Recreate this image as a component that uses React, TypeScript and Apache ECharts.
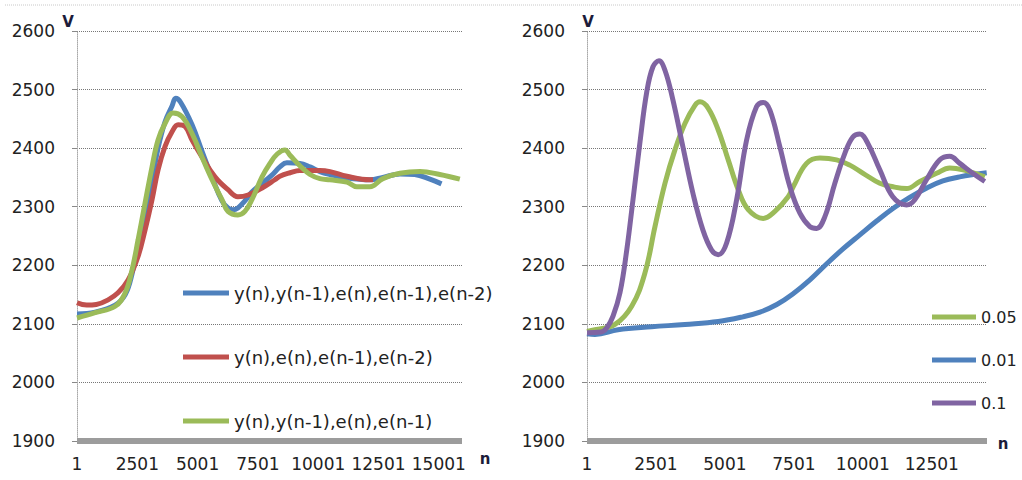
import React, { useEffect, useRef } from "react";
import * as echarts from "echarts";

// ---------- data (left panel) ----------
const leftNames = ["y(n),y(n-1),e(n),e(n-1),e(n-2)", "y(n),e(n),e(n-1),e(n-2)", "y(n),y(n-1),e(n),e(n-1)"];

const leftBlueN = [0, 750, 1580, 2000, 2280, 2530, 2820, 3110, 3360, 3650, 3940, 4090, 4300, 4770, 5180, 5600, 6010, 6260, 6470, 6670, 6960, 7250, 7670, 8080, 8410, 8700, 9240, 9660, 10070, 10490, 11190, 12140, 12680, 13390, 14000, 14630, 15110];
const leftBlueV = [2117, 2120, 2132, 2150, 2185, 2235, 2290, 2345, 2400, 2445, 2472, 2485, 2478, 2440, 2395, 2350, 2310, 2298, 2295, 2298, 2310, 2325, 2340, 2354, 2368, 2375, 2374, 2368, 2360, 2355, 2349, 2346, 2350, 2356, 2355, 2347, 2339];

const leftRedN = [0, 400, 800, 1290, 1700, 2120, 2530, 2820, 3110, 3360, 3650, 3940, 4190, 4480, 4770, 5180, 5720, 6260, 6670, 7090, 7670, 8200, 8410, 8830, 9240, 10070, 10490, 11190, 12140, 12270];
const leftRedV = [2136, 2132, 2133, 2141, 2153, 2175, 2215, 2260, 2312, 2363, 2403, 2428, 2440, 2437, 2414, 2385, 2351, 2329, 2317, 2320, 2332, 2346, 2352, 2358, 2362, 2362, 2360, 2352, 2346, 2346];

const leftGreenN = [0, 750, 1580, 2000, 2280, 2530, 2820, 3110, 3360, 3650, 3980, 4350, 4770, 5180, 5600, 6010, 6260, 6670, 6960, 7250, 7670, 8000, 8300, 8620, 8830, 9240, 9660, 10070, 10490, 11190, 11600, 12140, 12680, 13390, 14220, 15040, 15870];
const leftGreenV = [2110, 2119, 2130, 2153, 2192, 2243, 2306, 2368, 2414, 2442, 2460, 2454, 2425, 2385, 2346, 2312, 2292, 2286, 2292, 2312, 2351, 2374, 2390, 2397, 2388, 2370, 2355, 2348, 2346, 2342, 2334, 2334, 2348, 2357, 2360, 2355, 2347];

// ---------- data (right panel) ----------
const rightNames = ["0.05", "0.01", "0.1"];

const rightGreenN = [0, 290, 1014, 1620, 2101, 2464, 2826, 3188, 3550, 3913, 4094, 4395, 4757, 5119, 5482, 5844, 6387, 6811, 7293, 7474, 7960, 8442, 9046, 9528, 10010, 10615, 11097, 11583, 12065, 12670, 13151, 13633, 14238, 14420];
const rightGreenV = [2087, 2090, 2099, 2130, 2187, 2266, 2340, 2397, 2442, 2473, 2479, 2468, 2431, 2380, 2329, 2295, 2280, 2292, 2317, 2334, 2374, 2383, 2380, 2371, 2357, 2340, 2334, 2331, 2343, 2357, 2366, 2363, 2354, 2351];

const rightBlueN = [0, 290, 1123, 2344, 3550, 4757, 5650, 6270, 6880, 7460, 8080, 8700, 9280, 9890, 10510, 11090, 11700, 12320, 12900, 13510, 14000, 14490];
const rightBlueV = [2083, 2082, 2090, 2095, 2099, 2104, 2112, 2120, 2133, 2151, 2175, 2203, 2228, 2252, 2276, 2297, 2316, 2332, 2344, 2351, 2355, 2358];

const rightPurpleN = [0, 500, 714, 942, 1195, 1438, 1667, 1920, 2163, 2391, 2609, 2826, 3116, 3478, 3840, 4203, 4518, 4757, 5061, 5424, 5786, 6148, 6387, 6630, 6992, 7355, 7717, 8079, 8322, 8623, 8985, 9347, 9637, 9891, 10181, 10615, 11086, 11583, 11883, 12307, 12789, 13151, 13514, 13984, 14420];
const rightPurpleV = [2085, 2086, 2093, 2113, 2153, 2225, 2312, 2410, 2495, 2539, 2549, 2533, 2482, 2402, 2323, 2260, 2226, 2218, 2238, 2312, 2414, 2471, 2478, 2465, 2402, 2334, 2289, 2266, 2263, 2283, 2340, 2391, 2419, 2424, 2408, 2363, 2317, 2303, 2312, 2346, 2380, 2386, 2374, 2357, 2343];

const yTicks = { min: 1900, max: 2600, step: 100 };
const xStep = 2500;
const leftXMax = 15960;
const rightXMax = 14500;

const colors = { blue: "#4F81BD", red: "#C0504D", green: "#9BBB59", purple: "#8064A2" };
const FONT = "DejaVu Sans";

const pairs = (n: number[], v: number[]) => n.map((x, i) => [x, v[i]]);

export default function App() {
  const ref = useRef<HTMLDivElement>(null);
  useEffect(() => {
    if (!ref.current) return;
    const chart = echarts.init(ref.current, undefined, { renderer: "svg" });

    const yAxisCfg = (gridIndex: number) => ({
      type: "value",
      gridIndex,
      min: yTicks.min,
      max: yTicks.max,
      interval: yTicks.step,
      axisLine: { show: true, lineStyle: { color: "#a8a8a8", width: 1, type: [1, 1] } },
      axisTick: { show: true, length: 5, lineStyle: { color: "#888" } },
      splitLine: { show: true, lineStyle: { color: "#777", width: 1, type: [1, 1] } },
      axisLabel: {
        fontFamily: FONT,
        fontSize: 17,
        color: "#222",
        margin: 22,
        formatter: (v: number) => String(v),
      },
    });
    const xAxisCfg = (gridIndex: number, max: number) => ({
      type: "value",
      gridIndex,
      min: 0,
      max,
      interval: xStep,
      axisLine: { show: true, onZero: false, lineStyle: { color: "#9c9c9c", width: 6, cap: "butt" } },
      axisTick: { show: false },
      splitLine: { show: false },
      axisLabel: {
        fontFamily: FONT,
        fontSize: 17,
        color: "#222",
        margin: 14,
        formatter: (v: number) => (v % xStep === 0 ? String(v + 1) : ""),
      },
    });
    const line = (name: string, x: number, data: number[][], color: string) => ({
      name,
      type: "line",
      xAxisIndex: x,
      yAxisIndex: x,
      data,
      smooth: 0.4,
      symbol: "none",
      lineStyle: { color, width: 5 },
      itemStyle: { color },
    });

    chart.setOption({
      animation: false,
      backgroundColor: "#ffffff",
      grid: [
        { left: 77, top: 31, width: 385, height: 410 },
        { left: 587, top: 31, width: 400, height: 410 },
      ],
      xAxis: [xAxisCfg(0, leftXMax), xAxisCfg(1, rightXMax)],
      yAxis: [yAxisCfg(0), yAxisCfg(1)],
      legend: [
        {
          data: leftNames,
          orient: "vertical",
          left: 183,
          top: 284,
          padding: 0,
          itemWidth: 46,
          itemHeight: 5,
          itemGap: 46,
          icon: "rect",
          textStyle: { fontFamily: FONT, fontSize: 18, color: "#222" },
        },
        {
          data: rightNames,
          orient: "vertical",
          left: 932,
          top: 309,
          padding: 0,
          itemWidth: 44,
          itemHeight: 5,
          itemGap: 27,
          icon: "rect",
          textStyle: { fontFamily: FONT, fontSize: 16, color: "#222" },
        },
      ],
      graphic: [
        { type: "line", shape: { x1: 5, y1: 5, x2: 1022, y2: 5 }, style: { stroke: "#c8c8c8", lineWidth: 1, lineDash: [1, 1] } },
        { type: "text", x: 68, y: 22, style: { text: "V", font: `bold 15px "${FONT}"`, fill: "#1c1c3a", align: "center", verticalAlign: "middle" } },
        { type: "text", x: 588, y: 22, style: { text: "V", font: `bold 15px "${FONT}"`, fill: "#1c1c3a", align: "center", verticalAlign: "middle" } },
        { type: "text", x: 485, y: 459, style: { text: "n", font: `bold 15px "${FONT}"`, fill: "#1c1c3a", align: "center", verticalAlign: "middle" } },
        { type: "text", x: 1003, y: 444, style: { text: "n", font: `bold 15px "${FONT}"`, fill: "#1c1c3a", align: "center", verticalAlign: "middle" } },
      ],
      series: [
        line(leftNames[0], 0, pairs(leftBlueN, leftBlueV), colors.blue),
        line(leftNames[1], 0, pairs(leftRedN, leftRedV), colors.red),
        line(leftNames[2], 0, pairs(leftGreenN, leftGreenV), colors.green),
        line(rightNames[1], 1, pairs(rightBlueN, rightBlueV), colors.blue),
        line(rightNames[0], 1, pairs(rightGreenN, rightGreenV), colors.green),
        line(rightNames[2], 1, pairs(rightPurpleN, rightPurpleV), colors.purple),
      ],
    });
    return () => chart.dispose();
  }, []);
  return <div ref={ref} style={{ position: "absolute", left: 0, top: 0, width: 1022, height: 480, background: "#fff" }} />;
}
